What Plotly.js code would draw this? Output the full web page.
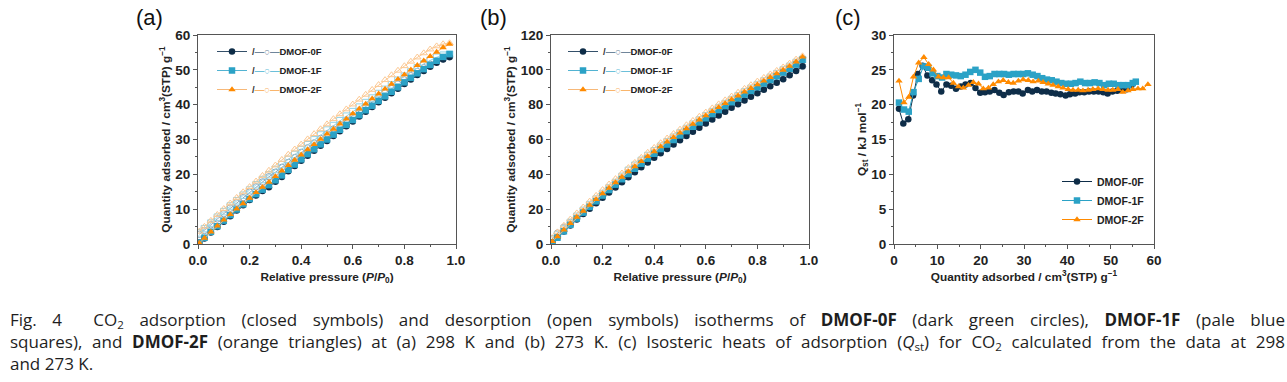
<!DOCTYPE html>
<html>
<head>
<meta charset="utf-8">
<script src="https://cdn.plot.ly/plotly-3.0.1.min.js"></script>
<style>
  html, body { margin:0; padding:0; background:#fff; }
  #wrap { position:relative; width:1287px; height:382px; overflow:hidden; }
  #chart { position:absolute; left:0; top:0; width:1287px; height:382px; }
  #cap { position:absolute; left:10px; top:309px; width:1275px; font-family:"Open Sans", "Noto Sans", sans-serif; font-size:17px; line-height:22px; color:#1e1e1e; }
  #cap .j { text-align:justify; text-align-last:justify; white-space:nowrap; }
  #cap sub { font-size:11.5px; line-height:0; vertical-align:-3px; }
  #cap b { font-weight:700; }
</style>
</head>
<body>
<div id="wrap">
<div id="chart"></div>
<div id="cap">
<div class="j">Fig. 4&nbsp; CO<sub>2</sub> adsorption (closed symbols) and desorption (open symbols) isotherms of <b>DMOF-0F</b> (dark green circles), <b>DMOF-1F</b> (pale blue</div>
<div class="j">squares), and <b>DMOF-2F</b> (orange triangles) at (a) 298 K and (b) 273 K. (c) Isosteric heats of adsorption (<i>Q</i><sub>st</sub>) for CO<sub>2</sub> calculated from the data at 298</div>
<div>and 273 K.</div>
</div>
</div>
<script>
// ---------- DATA ----------
const names = ["DMOF-0F", "DMOF-1F", "DMOF-2F"];
const pressure = [0.005,0.025,0.05,0.075,0.1,0.125,0.15,0.175,0.2,0.225,0.25,0.275,0.3,0.325,0.35,0.375,0.4,0.425,0.45,0.475,0.5,0.525,0.55,0.575,0.6,0.625,0.65,0.675,0.7,0.725,0.75,0.775,0.8,0.825,0.85,0.875,0.9,0.925,0.95,0.975];

// (a) 298 K
const a_ads_0F = [0.4,1.6,3.3,4.9,6.4,8.0,9.6,11.1,12.6,13.9,15.2,16.3,17.9,19.2,20.9,22.4,23.9,25.3,26.8,28.2,29.6,31.0,32.4,33.8,35.2,36.6,38.0,39.3,40.7,42.0,43.3,44.6,45.9,47.2,48.5,49.7,50.9,52.0,53.0,53.7];
const a_ads_1F = [0.4,1.8,3.5,5.1,6.7,8.3,9.9,11.4,12.9,14.3,15.6,16.9,18.3,19.7,21.3,22.8,24.3,25.8,27.2,28.6,30.0,31.4,32.8,34.2,35.6,37.0,38.4,39.7,41.1,42.4,43.7,45.0,46.4,47.7,49.0,50.2,51.4,52.6,53.7,54.5];
const a_ads_2F = [0.3,1.7,3.5,5.2,6.9,8.5,10.1,11.6,13.2,14.8,16.3,17.8,19.4,21.0,22.6,24.1,25.6,27.1,28.6,30.1,31.6,33.0,34.5,35.9,37.4,38.8,40.2,41.7,43.1,44.5,45.9,47.3,48.6,50.0,51.3,52.6,53.9,55.1,56.4,57.4];
const a_des_0F = [2.8,3.9,5.5,7.2,8.7,10.3,11.8,13.3,14.9,16.4,17.8,19.3,20.6,22.0,23.4,24.8,26.3,27.6,29.0,30.3,31.6,33.0,34.3,35.6,36.9,38.2,39.5,40.8,42.1,43.4,44.6,45.9,47.1,48.3,49.5,50.6,51.6,52.5,53.2,53.7];
const a_des_1F = [3.2,4.4,6.0,7.7,9.3,10.9,12.4,14.0,15.5,17.0,18.5,19.9,21.4,22.8,24.3,25.7,27.1,28.5,29.9,31.3,32.7,34.0,35.4,36.7,38.0,39.3,40.6,41.9,43.2,44.4,45.7,47.0,48.2,49.4,50.6,51.7,52.7,53.6,54.2,54.5];
const a_des_2F = [3.6,5.0,6.7,8.4,10.1,11.7,13.3,14.9,16.4,18.0,19.6,21.1,22.6,24.2,25.7,27.2,28.6,30.1,31.6,33.0,34.4,35.9,37.3,38.7,40.1,41.5,42.9,44.3,45.7,47.1,48.5,49.8,51.1,52.4,53.6,54.8,55.9,56.8,57.4,57.7];

// (b) 273 K
const b_ads_0F = [1.0,3.8,7.2,10.6,14.0,17.2,20.3,23.4,26.6,29.6,32.5,35.4,38.3,41.2,44.0,46.8,49.5,52.1,54.6,57.1,59.6,62.0,64.4,66.8,69.2,71.5,73.8,76.0,78.2,80.3,82.4,84.5,86.6,88.6,90.6,92.6,94.6,96.9,99.4,102.0];
const b_ads_1F = [0.8,3.6,7.3,11.0,14.6,18.0,21.3,24.5,27.8,31.0,34.1,37.2,40.2,43.2,46.1,49.0,51.8,54.5,57.1,59.7,62.3,64.8,67.3,69.8,72.2,74.6,76.9,79.2,81.4,83.6,85.8,87.9,90.0,92.1,94.2,96.3,98.4,100.6,103.0,105.8];
const b_ads_2F = [1.5,4.3,8.1,11.8,15.4,18.9,22.3,25.6,28.9,32.1,35.3,38.4,41.5,44.5,47.4,50.3,53.1,55.9,58.6,61.2,63.8,66.3,68.8,71.3,73.7,76.1,78.4,80.7,82.9,85.1,87.3,89.4,91.5,93.6,95.7,97.8,99.9,102.1,104.6,107.4];
const b_des_0F = [3.0,6.2,9.6,12.3,15.0,18.0,21.0,24.2,27.5,30.9,34.0,37.4,40.8,43.6,46.4,49.0,51.6,54.2,56.7,59.2,61.6,64.0,66.4,68.8,71.1,73.4,75.7,77.9,80.1,82.3,84.4,86.5,88.6,90.6,92.6,94.6,96.6,98.6,100.5,102.0];
const b_des_1F = [2.2,5.2,8.8,12.4,15.9,19.3,22.6,25.8,29.0,32.2,35.3,38.8,42.3,45.2,48.0,50.8,53.5,56.1,58.7,61.3,63.8,66.3,68.8,71.2,73.6,76.0,78.3,80.6,82.9,85.1,87.3,89.4,91.5,93.6,95.7,97.8,99.9,102.0,104.2,105.9];
const b_des_2F = [3.5,6.8,10.6,14.2,17.7,21.1,24.5,27.8,31.1,34.3,37.4,40.6,43.7,46.7,49.6,52.5,55.3,58.0,60.7,63.3,65.8,68.3,70.8,73.2,75.6,78.0,80.3,82.6,84.8,87.0,89.2,91.3,93.4,95.5,97.5,99.5,101.5,103.7,106.0,107.9];

// (c) Qst
const c_q_0F = [1.15,2.15,3.3,4.4,5.5,6.6,7.7,8.8,9.8,10.9,12.1,13.2,14.3,15.4,16.5,17.7,18.8,19.9,21.0,22.1,23.2,24.3,25.3,26.5,27.6,28.7,29.7,30.9,31.9,33.0,34.1,35.2,36.3,37.3,38.4,39.6,40.6,41.8,42.8,43.9,45.0,46.1,47.2,48.3,49.3,50.4,51.5,52.6,53.7,54.8];
const c_h_0F = [19.4,17.3,17.9,21.3,24.4,25.6,24.2,23.5,22.9,21.9,22.9,22.7,22.3,22.6,22.9,23.1,22.4,21.7,21.8,21.9,22.1,21.7,21.4,21.8,21.9,21.9,21.6,22.1,21.9,22.1,21.9,21.9,21.7,21.6,21.5,21.3,21.5,21.6,21.8,21.8,21.9,21.9,21.9,21.8,21.6,21.9,22.0,22.1,22.2,22.8];
const c_q_1F = [1.15,2.3,3.4,4.5,5.7,6.8,7.9,8.9,10.0,11.1,12.1,13.2,14.3,15.4,16.5,17.6,18.8,19.9,21.0,22.1,23.2,24.3,25.4,26.5,27.6,28.7,29.8,30.9,32.0,33.1,34.2,35.3,36.4,37.5,38.6,39.7,40.8,41.9,43.0,44.1,45.2,46.3,47.4,48.5,49.6,50.7,51.8,52.9,54.0,55.1,55.8];
const c_h_1F = [20.3,19.3,19.0,21.8,23.7,25.5,25.3,24.5,24.1,23.9,24.4,24.3,24.2,24.1,24.3,24.7,25.0,24.6,24.0,24.1,24.4,24.4,24.4,24.3,24.4,24.4,24.4,24.5,24.3,24.1,23.8,23.6,23.5,23.3,23.1,23.0,23.0,23.1,23.3,23.1,23.1,23.2,23.1,22.8,23.0,23.0,22.8,22.8,22.8,23.1,23.3];
const c_q_2F = [1.15,2.3,3.4,4.5,5.7,6.9,8.0,9.1,10.3,11.4,12.6,13.7,14.9,16.0,17.2,18.3,19.5,20.6,21.8,22.9,24.1,25.2,26.4,27.5,28.7,29.8,31.0,32.1,33.3,34.4,35.6,36.7,37.9,39.0,40.2,41.3,42.5,43.6,44.8,45.9,47.1,48.2,49.4,50.5,51.7,52.8,54.0,55.1,56.3,57.4,58.6];
const c_h_2F = [23.4,20.3,21.1,24.0,26.0,26.8,25.8,25.0,24.0,23.9,23.9,23.1,22.6,22.4,22.8,23.2,23.0,22.3,22.4,22.9,23.3,23.5,23.2,23.1,23.4,23.6,23.5,23.3,23.4,23.2,23.0,22.8,22.6,22.4,22.2,22.1,22.1,22.0,22.1,22.2,22.3,22.2,22.1,22.1,22.2,21.8,22.0,22.2,22.3,22.3,22.9];

// ---------- STYLE ----------
const W = 1287, H = 382;
const col = ["#0e2d48", "#2ba2c6", "#ff8a00"];
const colLine = ["#34506a", "#52b3d2", "#f7b878"];
const colOpen = ["#8ea2b4", "#93d3e6", "#fcc892"];
const colLegOpen = ["#6f869b", "#6cc0da", "#f9b56c"];
const symClosed = ["circle", "square", "triangle-up"];
const symOpen = ["circle-open", "square-open", "triangle-up-open"];
const FONT = "Liberation Sans, Arial, Helvetica, sans-serif";

const px = v => v / W;
const py = v => 1 - v / H;

function iso(xa, ya, leg, ads, des) {
  const tr = [];
  for (let i = 0; i < 3; i++) {
    tr.push({
      x: pressure, y: des[i], xaxis: xa, yaxis: ya, type: "scatter", mode: "lines+markers",
      showlegend: false,
      line: { color: colOpen[i], width: 1 },
      marker: { symbol: symOpen[i], size: 6.5, color: colOpen[i], line: { color: colOpen[i], width: 1 } }
    });
  }
  for (let i = 0; i < 3; i++) {
    tr.push({
      x: pressure, y: ads[i], xaxis: xa, yaxis: ya, type: "scatter", mode: "lines+markers",
      legend: leg, showlegend: true,
      name: '<span style="color:#333">/</span><span style="color:' + colLegOpen[i] + '">—○—</span>' + names[i],
      line: { color: colLine[i], width: 1 },
      marker: { symbol: symClosed[i], size: 6.5, color: col[i] }
    });
  }
  return tr;
}

const traces = []
  .concat(iso("x", "y", "legend", [a_ads_0F, a_ads_1F, a_ads_2F], [a_des_0F, a_des_1F, a_des_2F]))
  .concat(iso("x2", "y2", "legend2", [b_ads_0F, b_ads_1F, b_ads_2F], [b_des_0F, b_des_1F, b_des_2F]));

const cq = [c_q_0F, c_q_1F, c_q_2F], ch = [c_h_0F, c_h_1F, c_h_2F];
for (let i = 0; i < 3; i++) {
  traces.push({
    x: cq[i], y: ch[i], xaxis: "x3", yaxis: "y3", type: "scatter", mode: "lines+markers",
    legend: "legend3", name: names[i],
    line: { color: col[i], width: 1 },
    marker: { symbol: symClosed[i], size: 6.5, color: col[i] }
  });
}

const tickfont = { family: FONT, size: 13.5, color: "#222", weight: "bold" };
const titlefont = { family: FONT, size: 11.8, color: "#222", weight: "bold" };

function axis(domain, anchor, range, dtick, mdtick, fmt, title, standoff) {
  return {
    domain: domain, anchor: anchor, range: range, autorange: false,
    showline: true, mirror: true, linecolor: "#555", linewidth: 1,
    ticks: "outside", ticklen: 4, tickwidth: 1, tickcolor: "#555",
    tick0: 0, dtick: dtick, tickformat: fmt,
    minor: { dtick: mdtick, ticks: "outside", ticklen: 2, tickcolor: "#555", showgrid: false },
    showgrid: false, zeroline: false, tickfont: tickfont,
    title: { text: title, font: titlefont, standoff: standoff }
  };
}

const yd = [py(244), py(35)];
const xdA = [px(198), px(456)], xdB = [px(551), px(809)], xdC = [px(894), px(1154)];
const qTitle = "Quantity adsorbed / cm<sup>3</sup>(STP) g<sup>−1</sup>";
const pTitle = "Relative pressure (<i>P</i>/<i>P</i><sub>0</sub>)";

const legendBase = {
  bgcolor: "rgba(0,0,0,0)", borderwidth: 0, xanchor: "left", yanchor: "top",
  font: { family: FONT, size: 9.5, color: "#222", weight: "bold" },
  itemwidth: 30, tracegroupgap: 0
};

const annFont = { family: FONT, size: 22, color: "#111" };

const layout = {
  width: W, height: H,
  margin: { l: 0, r: 0, t: 0, b: 0 },
  paper_bgcolor: "#fff", plot_bgcolor: "#fff",
  showlegend: true,
  xaxis: axis(xdA, "y", [0, 1], 0.2, 0.1, ".1f", pTitle, 5),
  yaxis: axis(yd, "x", [0, 60], 10, 5, "d", qTitle, 2),
  xaxis2: axis(xdB, "y2", [0, 1], 0.2, 0.1, ".1f", pTitle, 5),
  yaxis2: axis(yd, "x2", [0, 120], 20, 10, "d", qTitle, 2),
  xaxis3: axis(xdC, "y3", [0, 60], 10, 5, "d", qTitle, 5),
  yaxis3: axis(yd, "x3", [0, 30], 5, 2.5, "d", "Q<sub>st</sub> / kJ mol<sup>−1</sup>", 2),
  legend: Object.assign({}, legendBase, { x: px(212), y: py(37) }),
  legend2: Object.assign({}, legendBase, { x: px(563), y: py(37) }),
  legend3: Object.assign({}, legendBase, { x: px(1057), y: py(167), font: { family: FONT, size: 10.5, color: "#222", weight: "bold" } }),
  annotations: [
    { text: "(a)", x: px(149), y: py(17), xref: "paper", yref: "paper", xanchor: "center", yanchor: "middle", showarrow: false, font: annFont },
    { text: "(b)", x: px(494), y: py(17), xref: "paper", yref: "paper", xanchor: "center", yanchor: "middle", showarrow: false, font: annFont },
    { text: "(c)", x: px(848), y: py(17), xref: "paper", yref: "paper", xanchor: "center", yanchor: "middle", showarrow: false, font: annFont }
  ]
};

Plotly.newPlot("chart", traces, layout, { displayModeBar: false, staticPlot: true });
</script>
</body>
</html>
